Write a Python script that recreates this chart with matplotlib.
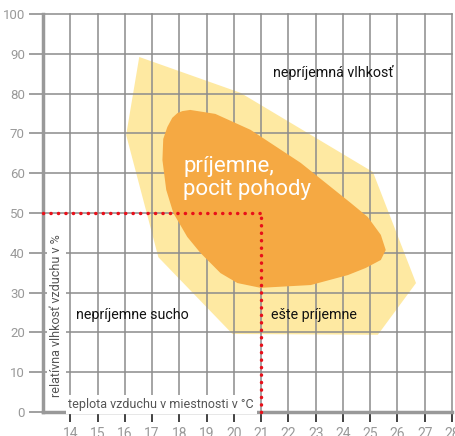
import matplotlib
matplotlib.use('Agg')
import matplotlib.pyplot as plt
from matplotlib.patches import Polygon

plt.rcParams['font.family'] = ['Roboto', 'DejaVu Sans']

# axis ticks
x_ticks = list(range(14, 29))
y_ticks = list(range(0, 101, 10))

# outer zone (still acceptable)
outer_x = [16.53, 20.24, 25.10, 26.68, 25.28, 19.95, 17.23, 16.05]
outer_y = [89.2, 80.2, 60.3, 32.4, 19.4, 19.6, 38.9, 69.6]

# inner zone (comfortable)
inner_x = [18.40, 19.32, 20.61, 22.45, 24.29, 24.91, 25.39, 25.57, 25.39, 24.84,
           24.18, 22.82, 20.98, 20.13, 19.51, 18.77, 18.29, 17.78, 17.52, 17.38,
           17.41, 17.56, 17.74, 17.93, 18.11]
inner_y = [75.9, 74.9, 70.9, 62.6, 52.5, 49.0, 44.5, 40.7, 38.2, 36.2,
           34.4, 31.9, 31.2, 32.4, 34.9, 40.0, 44.0, 50.0, 55.8, 63.3,
           68.6, 71.6, 73.9, 75.1, 75.6]

# reference point
ref_temp = 21
ref_hum = 50

fig = plt.figure(figsize=(4.55, 4.36), dpi=100)
ax = fig.add_axes([43 / 455, 24 / 436, 409 / 455, 398 / 436])

ax.add_patch(Polygon(list(zip(outer_x, outer_y)), closed=True,
                     facecolor='#fee9a2', edgecolor='none', zorder=0.3))
ax.add_patch(Polygon(list(zip(inner_x, inner_y)), closed=True,
                     facecolor='#f5a943', edgecolor='none', zorder=2))

ax.set_xlim(13, 28)
ax.set_ylim(0, 100)
ax.set_xticks(x_ticks)
ax.set_yticks(y_ticks)
ax.set_axisbelow(True)
ax.grid(True, color='#8c8c8c', linewidth=1.1)
for gl in ax.get_xgridlines() + ax.get_ygridlines():
    gl.set_clip_on(False)

for s in ['top', 'right']:
    ax.spines[s].set_visible(False)
for s in ['left', 'bottom']:
    ax.spines[s].set_color('#999999')
    ax.spines[s].set_linewidth(2.5)

ax.tick_params(axis='y', colors='#999999', length=10, width=1.3,
               labelsize=9.5, pad=3)
ax.tick_params(axis='x', color='#333333', labelcolor='#999999', length=7,
               width=1.3, labelsize=10, pad=4)

# red dotted guide lines
dots = (0, (0.05, 2.1))
ax.plot([13, ref_temp], [ref_hum, ref_hum], color='#e8101a', linewidth=2.5,
        linestyle=dots, dash_capstyle='round', zorder=4, clip_on=False)
ax.plot([ref_temp, ref_temp], [0, ref_hum], color='#e8101a', linewidth=2.5,
        linestyle=dots, dash_capstyle='round', zorder=4, clip_on=False)

ax.text(23.66, 85.2, 'nepríjemná vlhkosť', fontsize=10.3, color='#111111',
        ha='center', va='center', zorder=5)
ax.text(16.27, 24.4, 'nepríjemne sucho', fontsize=10.3, color='#111111',
        ha='center', va='center', zorder=5)
ax.text(22.93, 24.4, 'ešte príjemne', fontsize=10.3, color='#111111',
        ha='center', va='center', zorder=5)
ax.text(18.15, 58.8, 'príjemne,\npocit pohody', fontsize=16, color='white',
        ha='left', va='center', linespacing=1.1, zorder=5)

ax.text(13.5, 24.1, 'relatívna vlhkosť vzduchu v %', fontsize=9,
        color='#555555', rotation=90, ha='center', va='center', zorder=5,
        bbox=dict(facecolor='white', edgecolor='none', pad=2))
ax.text(13.93, 1.9, 'teplota vzduchu v miestnosti v °C', fontsize=9,
        color='#555555', ha='left', va='center', zorder=5,
        bbox=dict(facecolor='white', edgecolor='none', pad=2))

fig.savefig('out.png', dpi=100)
